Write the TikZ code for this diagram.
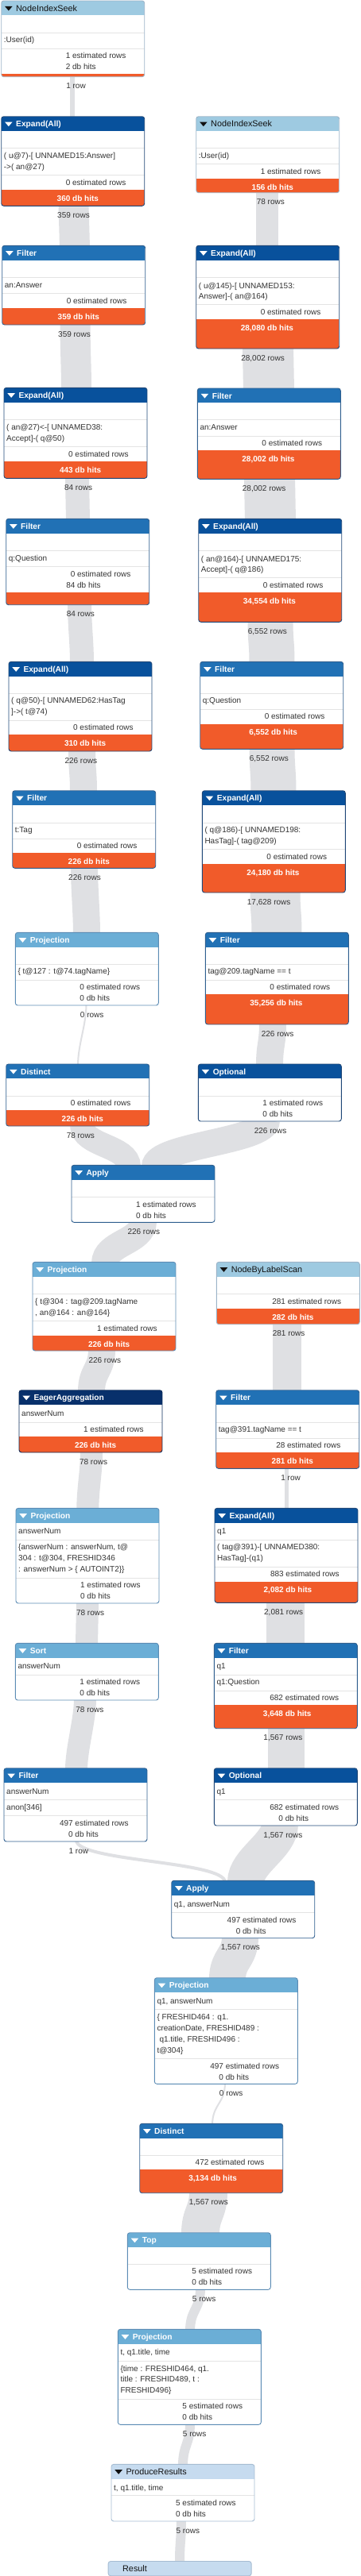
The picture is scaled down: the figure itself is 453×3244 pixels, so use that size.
\documentclass[tikz,border=0pt]{standalone}
\usepackage{fontspec}
\setmainfont{Liberation Sans}
\usetikzlibrary{calc}
\pgfdeclarelayer{bg}
\pgfsetlayers{bg,main}

\definecolor{lightH}{HTML}{9ECAE1}\definecolor{lightB}{HTML}{9CB4C8}\definecolor{lightT}{HTML}{111111}
\definecolor{prodH}{HTML}{C6DBEF}\definecolor{prodB}{HTML}{A6BCD2}\definecolor{prodT}{HTML}{111111}
\definecolor{projH}{HTML}{6BAED6}\definecolor{projB}{HTML}{5C8CB5}\definecolor{projT}{HTML}{FFFFFF}
\definecolor{filH}{HTML}{2171B5}\definecolor{filB}{HTML}{2F5F8F}\definecolor{filT}{HTML}{FFFFFF}
\definecolor{expH}{HTML}{08519C}\definecolor{expB}{HTML}{1F4777}\definecolor{expT}{HTML}{FFFFFF}
\definecolor{eagH}{HTML}{08306B}\definecolor{eagB}{HTML}{0B2B5A}\definecolor{eagT}{HTML}{FFFFFF}
\definecolor{hitor}{HTML}{F15B2A}
\definecolor{bandc}{HTML}{DFE0E3}
\definecolor{sepc}{HTML}{E4E4E4}
\definecolor{txtc}{HTML}{333333}

\newcommand\bodyf{\fontsize{10}{12}\selectfont}
\newcommand\bodyb{\bfseries\fontsize{10}{12}\selectfont}
\def\hflight{\fontsize{10.8}{12}\selectfont}
\def\hfprod{\fontsize{10.8}{12}\selectfont}
\def\hfproj{\bfseries\fontsize{10.2}{12}\selectfont}
\def\hffil{\bfseries\fontsize{10.2}{12}\selectfont}
\def\hfexp{\bfseries\fontsize{10.2}{12}\selectfont}
\def\hfeag{\bfseries\fontsize{10.2}{12}\selectfont}

% body helpers (local coordinates of a box)
\newcommand\bsep[1]{\draw[sepline] (0,#1) -- (180,#1);}
\newcommand\btxt[2]{\node[btxtst] at (3,#1+3.7) {#2};}
\newcommand\bstat[3]{\node[btxtst] at (86.5,#1+3.7) {\llap{#2}\ #3};}
\newcommand\borng[1]{\fill[hitor] (0,#1) rectangle (180,400);}
\newcommand\bhits[2]{\node[btxtst, text=white, font=\bodyb] at (86.5,#1+3.7) {\llap{#2}\ db hits};}

% #1 name #2 x #3 y #4 h #5 kind #6 title #7 body
\newcommand\opbox[7]{%
 \begin{scope}[shift={(#2,#3)}]
  \node[opnode, minimum height=#4pt, anchor=north west] (#1) at (0,0) {};
  \begin{scope}
   \clip[rounded corners=3pt] (0,0) rectangle (180,#4);
   \fill[#5H] (0,0) rectangle (180,18.4);
   #7
  \end{scope}
  \draw[#5B, line width=0.9pt, rounded corners=3pt] (0,0) rectangle (180,#4);
  \fill[#5T] (4.4,6.9) -- (13.9,6.9) -- (9.15,12.5) -- cycle;
  \node[anchor=base west, inner sep=0pt, text=#5T, font=\csname hf#5\endcsname] at (18.3,13.2) {#6};
 \end{scope}}

% #1 width #2 from #3 dx #4 to #5 dx #6 number #7 word
\newcommand\flowband[7]{%
 \begin{pgfonlayer}{bg}
  \draw[bandline, line width=#1pt] ([xshift=#3pt,yshift=2pt]#2.south west) .. controls +(0,27) and +(0,-27) .. ([xshift=#5pt,yshift=-2pt]#4.north west);
 \end{pgfonlayer}
 \node[elbl] at ([xshift=87pt,yshift=-14.7pt]#2.south west) {\llap{#6}\ #7};}

\begin{document}
\begin{tikzpicture}[x=1pt,y=-1pt,
  opnode/.style={rectangle, fill=white, rounded corners=3pt, minimum width=180pt, inner sep=0pt},
  sepline/.style={draw=sepc, line width=0.8pt},
  btxtst/.style={anchor=base west, inner sep=0pt, font=\bodyf, text=txtc},
  elbl/.style={anchor=base west, inner sep=0pt, font=\bodyf, text=txtc},
  bandline/.style={draw=bandc, line cap=butt}]
\begin{pgfonlayer}{bg}
\fill[white] (0,0) rectangle (453,3244);
\end{pgfonlayer}
\useasboundingbox (0,0) rectangle (453,3244);

\opbox{nis1}{1.7}{1}{95.7}{light}{NodeIndexSeek}{\bsep{40}\btxt{49}{:User(id)}\bsep{60}\bstat{69}{1}{estimated rows}\bstat{82.3}{2}{db hits}\borng{91.7}}
\opbox{exp1}{1.7}{146.7}{112.6}{exp}{Expand(All)}{\bsep{40}\btxt{49}{( u@7)-[ UNNAMED15:Answer]}\btxt{63.3}{->( an@27)}\bsep{74}\bstat{83.3}{0}{estimated rows}\borng{92}\bhits{102.6}{360}}
\opbox{nis2}{246.7}{146.7}{96}{light}{NodeIndexSeek}{\bsep{40}\btxt{49}{:User(id)}\bsep{60}\bstat{69.3}{1}{estimated rows}\borng{78}\bhits{89}{156}}
\opbox{fil1}{2.7}{309.3}{99.7}{fil}{Filter}{\bsep{40}\btxt{49.7}{an:Answer}\bsep{60}\bstat{69.7}{0}{estimated rows}\borng{78.4}\bhits{89.4}{359}}
\opbox{exp2}{246.7}{309.3}{129.7}{exp}{Expand(All)}{\bsep{40}\btxt{50}{( u@145)-[ UNNAMED153:}\btxt{63.4}{Answer]-( an@164)}\bsep{74}\bstat{83.4}{0}{estimated rows}\borng{92.4}\bhits{103.4}{28,080}}
\opbox{exp3}{5}{488.3}{114}{exp}{Expand(All)}{\bsep{40}\btxt{49.4}{( an@27)<-[ UNNAMED38:}\btxt{63.4}{Accept]-( q@50)}\bsep{74.4}\bstat{83.4}{0}{estimated rows}\borng{92.4}\bhits{103.4}{443}}
\opbox{fil2}{248.3}{489}{114.3}{fil}{Filter}{\bsep{39.3}\btxt{48.7}{an:Answer}\bsep{60.3}\bstat{68.7}{0}{estimated rows}\borng{77.7}\bhits{88.3}{28,002}}
\opbox{fil3}{7.7}{653.3}{108.4}{fil}{Filter}{\bsep{40}\btxt{49.4}{q:Question}\bsep{60}\bstat{69.4}{0}{estimated rows}\bstat{83.4}{84}{db hits}\borng{92.4}}
\opbox{exp4}{249.7}{653.3}{130}{exp}{Expand(All)}{\bsep{40}\btxt{50}{( an@164)-[ UNNAMED175:}\btxt{63.4}{Accept]-( q@186)}\bsep{74.4}\bstat{83.4}{0}{estimated rows}\borng{92.4}\bhits{103.4}{34,554}}
\opbox{exp5}{11}{833.3}{112.7}{exp}{Expand(All)}{\bsep{40}\btxt{48.7}{( q@50)-[ UNNAMED62:HasTag}\btxt{62.7}{]->( t@74)}\bsep{74}\bstat{82.7}{0}{estimated rows}\borng{92}\bhits{102.4}{310}}
\opbox{fil4}{251.7}{833.3}{110}{fil}{Filter}{\bsep{40}\btxt{48.4}{q:Question}\bsep{60}\bstat{68.4}{0}{estimated rows}\borng{78.4}\bhits{88.4}{6,552}}
\opbox{fil5}{15.7}{995.7}{97.6}{fil}{Filter}{\bsep{40.3}\btxt{49.3}{t:Tag}\bsep{60.3}\bstat{69.3}{0}{estimated rows}\borng{78.3}\bhits{89}{226}}
\opbox{exp6}{254.3}{995.7}{128.3}{exp}{Expand(All)}{\bsep{40.3}\btxt{49.3}{( q@186)-[ UNNAMED198:}\btxt{63}{HasTag]-( tag@209)}\bsep{73.6}\bstat{82.6}{0}{estimated rows}\borng{92.3}\bhits{102.6}{24,180}}
\opbox{proj1}{19.3}{1174.3}{91.7}{proj}{Projection}{\bsep{40}\btxt{48.4}{\{ t@127 : t@74.tagName\}}\bsep{60}\bstat{68.4}{0}{estimated rows}\bstat{82.4}{0}{db hits}}
\opbox{fil6}{258.3}{1174.3}{115.7}{fil}{Filter}{\bsep{40}\btxt{48.4}{tag@209.tagName == t}\bsep{60}\bstat{68.4}{0}{estimated rows}\borng{78}\bhits{88.4}{35,256}}
\opbox{dist1}{7.7}{1340}{78}{fil}{Distinct}{\bsep{40}\bstat{49}{0}{estimated rows}\borng{58.3}\bhits{68.7}{226}}
\opbox{opt1}{249.3}{1340}{72}{exp}{Optional}{\bsep{40}\bstat{49}{1}{estimated rows}\bstat{62.7}{0}{db hits}}
\opbox{app1}{90}{1467.3}{72}{fil}{Apply}{\bsep{40}\bstat{49.4}{1}{estimated rows}\bstat{63.4}{0}{db hits}}
\opbox{proj2}{41}{1589.3}{111.7}{proj}{Projection}{\bsep{40}\btxt{49.4}{\{ t@304 : tag@209.tagName}\btxt{63.4}{, an@164 : an@164\}}\bsep{74}\bstat{83.4}{1}{estimated rows}\borng{92.4}\bhits{103.4}{226}}
\opbox{nbls}{272.3}{1589.3}{78.4}{light}{NodeByLabelScan}{\bsep{40}\bstat{49.4}{281}{estimated rows}\borng{59}\bhits{69.4}{282}}
\opbox{aggr}{24}{1750.7}{78.3}{eag}{EagerAggregation}{\btxt{29.3}{answerNum}\bsep{41}\bstat{49.3}{1}{estimated rows}\borng{58.3}\bhits{69.3}{226}}
\opbox{fil7}{271.7}{1750.7}{98.6}{fil}{Filter}{\bsep{40.3}\btxt{49.3}{tag@391.tagName == t}\bsep{60.3}\bstat{69.3}{28}{estimated rows}\borng{78.6}\bhits{89.3}{281}}
\opbox{proj3}{20}{1899.3}{119.7}{proj}{Projection}{\btxt{28.4}{answerNum}\bsep{40}\btxt{48.4}{\{answerNum : answerNum, t@}\btxt{62.4}{304 : t@304, FRESHID346}\btxt{76.4}{: answerNum > \{ AUTOINT2\}\}}\bsep{88}\bstat{96.4}{1}{estimated rows}\bstat{110}{0}{db hits}}
\opbox{exp7}{270}{1899.3}{119}{exp}{Expand(All)}{\btxt{28.4}{q1}\bsep{40}\btxt{48.4}{( tag@391)-[ UNNAMED380:}\btxt{62.4}{HasTag]-(q1)}\bsep{74}\bstat{82.4}{883}{estimated rows}\borng{92.4}\bhits{102.4}{2,082}}
\opbox{sort}{19.3}{2069.3}{71.7}{proj}{Sort}{\btxt{28.4}{answerNum}\bsep{39.7}\bstat{48.4}{1}{estimated rows}\bstat{62.4}{0}{db hits}}
\opbox{fil8}{269.3}{2069.3}{107.4}{fil}{Filter}{\btxt{28.4}{q1}\bsep{39.7}\btxt{48.4}{q1:Question}\bsep{59.7}\bstat{68.4}{682}{estimated rows}\borng{78}\bhits{88.4}{3,648}}
\opbox{fil9}{5}{2226.7}{92.3}{fil}{Filter}{\btxt{29.3}{answerNum}\bsep{40}\btxt{49.3}{anon[346]}\bsep{60}\bstat{69.3}{497}{estimated rows}\bstat{83.3}{0}{db hits}}
\opbox{opt2}{269.3}{2226.7}{72.3}{exp}{Optional}{\btxt{29.3}{q1}\bsep{40}\bstat{49.3}{682}{estimated rows}\bstat{62.6}{0}{db hits}}
\opbox{app2}{215.7}{2368.3}{72.4}{fil}{Apply}{\btxt{29.4}{q1, answerNum}\bsep{40}\bstat{49.4}{497}{estimated rows}\bstat{63.4}{0}{db hits}}
\opbox{proj4}{194.3}{2490.7}{133.6}{proj}{Projection}{\btxt{29.3}{q1, answerNum}\bsep{40}\btxt{48.6}{\{ FRESHID464 : q1.}\btxt{62.6}{creationDate, FRESHID489 :}\btxt{77}{\hspace*{3pt}q1.title, FRESHID496 :}\btxt{91}{t@304\}}\bsep{102}\bstat{111}{497}{estimated rows}\bstat{125}{0}{db hits}}
\opbox{dist2}{175.7}{2674.3}{87.4}{fil}{Distinct}{\bsep{40}\bstat{48.4}{472}{estimated rows}\borng{58}\bhits{68.4}{3,134}}
\opbox{topn}{160.3}{2811.7}{71.6}{proj}{Top}{\bsep{40}\bstat{48.3}{5}{estimated rows}\bstat{62}{0}{db hits}}
\opbox{proj5}{148.3}{2933.3}{120}{proj}{Projection}{\btxt{28.4}{t, q1.title, time}\bsep{40}\btxt{49}{\{time : FRESHID464, q1.}\btxt{62.7}{title : FRESHID489, t :}\btxt{76}{FRESHID496\}}\bsep{88.4}\bstat{96.7}{5}{estimated rows}\bstat{110.4}{0}{db hits}}
\opbox{prod}{140}{3103.3}{71.7}{prod}{ProduceResults}{\btxt{29}{t, q1.title, time}\bsep{39.4}\bstat{48.4}{5}{estimated rows}\bstat{62.4}{0}{db hits}}

\node[opnode, minimum height=18.3pt, anchor=north west, fill=prodH, draw=prodB, line width=0.9pt] (res) at (135.7,3225) {};
\node[anchor=base west, inner sep=0pt, text=prodT, font=\hfprod] at ([xshift=18.3pt,yshift=-13pt]res.north west) {Result};

\flowband{6}{nis1}{89.3}{exp1}{89.3}{1}{row}
\flowband{38}{exp1}{90.8}{fil1}{91.3}{359}{rows}
\flowband{38}{fil1}{91.8}{exp3}{91}{359}{rows}
\flowband{30}{exp3}{92}{fil3}{90.3}{84}{rows}
\flowband{30}{fil3}{92.3}{exp5}{92}{84}{rows}
\flowband{34}{exp5}{92}{fil5}{89.3}{226}{rows}
\flowband{34}{fil5}{90.3}{proj1}{89.7}{226}{rows}
\flowband{2}{proj1}{89.2}{dist1}{90.3}{0}{rows}
\flowband{30}{dist1}{95.3}{app1}{72}{78}{rows}
\flowband{34}{opt1}{85.7}{app1}{105}{226}{rows}
\flowband{34}{app1}{90}{proj2}{91}{226}{rows}
\flowband{34}{proj2}{87}{aggr}{91}{226}{rows}
\flowband{36}{nbls}{89}{fil7}{89.6}{281}{rows}
\flowband{28}{aggr}{91}{proj3}{90.3}{78}{rows}
\flowband{5}{fil7}{89}{exp7}{90.7}{1}{row}
\flowband{28}{proj3}{90}{sort}{89.7}{78}{rows}
\flowband{48}{exp7}{89}{fil8}{89.7}{2,081}{rows}
\flowband{28}{sort}{87.7}{fil9}{91}{78}{rows}
\flowband{46}{fil8}{90.4}{opt2}{90.4}{1,567}{rows}
\flowband{4}{fil9}{91}{app2}{67.3}{1}{row}
\flowband{46}{opt2}{82.7}{app2}{93.3}{1,567}{rows}
\flowband{46}{app2}{86.3}{proj4}{91.7}{1,567}{rows}
\flowband{2}{proj4}{88.7}{dist2}{91.3}{0}{rows}
\flowband{48}{dist2}{86.3}{topn}{91.7}{1,567}{rows}
\flowband{12}{topn}{91.7}{proj5}{90.7}{5}{rows}
\flowband{12}{proj5}{90.7}{prod}{90}{5}{rows}
\flowband{12}{prod}{88}{res}{90.3}{5}{rows}
\flowband{28}{nis2}{89.3}{exp2}{89.3}{78}{rows}
\flowband{64}{exp2}{90.3}{fil2}{89.7}{28,002}{rows}
\flowband{64}{fil2}{90.7}{exp4}{90.3}{28,002}{rows}
\flowband{57}{exp4}{90.3}{fil4}{90.3}{6,552}{rows}
\flowband{57}{fil4}{90.3}{exp6}{89.7}{6,552}{rows}
\flowband{63}{exp6}{91.7}{fil6}{89.7}{17,628}{rows}
\flowband{34}{fil6}{84.7}{opt1}{89.7}{226}{rows}
\end{tikzpicture}
\end{document}
